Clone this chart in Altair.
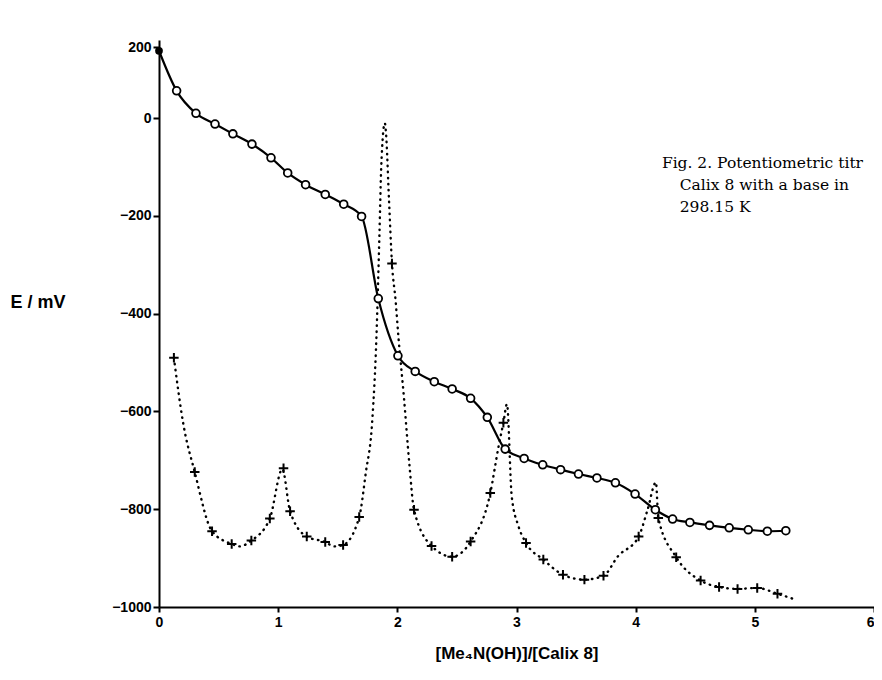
import altair as alt
import pandas as pd

# Potential E (mV) vs ratio — open circles, solid line
e_x = [0.0, 0.148, 0.31, 0.47, 0.62, 0.78, 0.94, 1.08, 1.23, 1.395, 1.55, 1.70,
       1.84, 2.005, 2.15, 2.31, 2.46, 2.615, 2.755, 2.905, 3.064, 3.22, 3.37,
       3.52, 3.675, 3.83, 3.995, 4.165, 4.31, 4.455, 4.62, 4.785, 4.945, 5.105, 5.26]
e_y = [138, 56, 10, -12, -32, -53, -81, -112, -136, -156, -176, -201,
       -369, -486, -518, -539, -554, -573, -612, -677, -696, -709, -719,
       -728, -736, -746, -769, -801, -820, -827, -833, -838, -842, -845, -844]

start_x = [0.0]
start_y = [138]

# Derivative points — "+" markers
d_x = [0.125, 0.30, 0.445, 0.61, 0.775, 0.93, 1.045, 1.10, 1.24, 1.395, 1.545, 1.68,
       1.955, 2.14, 2.287, 2.46, 2.615, 2.78, 2.89, 3.08, 3.225, 3.39, 3.57, 3.73,
       4.025, 4.19, 4.34, 4.545, 4.70, 4.855, 5.02, 5.19]
d_y = [-490, -724, -845, -871, -864, -819, -716, -804, -856, -867, -873, -816,
       -297, -801, -875, -897, -866, -767, -623, -869, -903, -934, -944, -936,
       -856, -818, -898, -946, -959, -963, -961, -973]

# Dotted derivative curve
c_x = [0.125, 0.203, 0.30, 0.445, 0.61, 0.677, 0.775, 0.93, 1.035, 1.10, 1.24, 1.395,
       1.47, 1.545, 1.68, 1.735, 1.79, 1.825, 1.85, 1.865, 1.895, 1.905, 1.93, 1.955,
       1.985, 2.01, 2.055, 2.10, 2.14, 2.287, 2.46, 2.615, 2.78, 2.85, 2.89, 2.92,
       2.96, 3.017, 3.08, 3.225, 3.39, 3.57, 3.73, 3.852, 4.025, 4.10, 4.17, 4.19,
       4.34, 4.545, 4.70, 4.855, 5.02, 5.19, 5.33]
c_y = [-490, -624, -724, -845, -871, -876, -864, -819, -718, -804, -856, -867,
       -876, -873, -816, -726, -617, -445, -235, -99, -10, -31, -167, -297,
       -372, -450, -570, -705, -801, -875, -897, -866, -767, -671, -623, -585,
       -774, -835, -869, -903, -934, -944, -936, -896, -856, -801, -745, -818,
       -898, -946, -959, -963, -961, -973, -984]

caption_lines = ["Fig. 2. Potentiometric titr", "Calix 8 with a base in", "298.15 K"]
caption_x = [4.22, 4.37, 4.37]
caption_y = [-91, -137, -181]

y_ticks = [-1000, -800, -600, -400, -200, 0, 145]
x_ticks = [0, 1, 2, 3, 4, 5, 6]

df_e = pd.DataFrame({"x": e_x, "y": e_y})
df_start = pd.DataFrame({"x": start_x, "y": start_y})
df_d = pd.DataFrame({"x": d_x, "y": d_y})
df_c = pd.DataFrame({"x": c_x, "y": c_y})
df_cap = pd.DataFrame({"t": caption_lines, "x": caption_x, "y": caption_y})

xs = alt.Scale(domain=[0, 6], nice=False)
ys = alt.Scale(domain=[-1000, 160], nice=False)

x_axis = alt.Axis(values=x_ticks, format="d", title="[Me₄N(OH)]/[Calix 8]",
                  grid=False, domainColor="black", domainWidth=2, tickColor="black",
                  tickWidth=2, tickSize=5, labelFont="Liberation Sans", labelFontWeight="bold",
                  labelFontSize=14, labelColor="black", labelPadding=3,
                  labelAlign={"expr": "datum.value == 6 ? 'right' : 'center'"},
                  titleFont="Liberation Sans", titleFontWeight="bold", titleFontSize=17,
                  titleColor="black", titlePadding=16)
y_axis = alt.Axis(values=y_ticks, format="d", title="E / mV", grid=False,
                  labelExpr="datum.value > 100 ? '200' : datum.label",
                  domainColor="black", domainWidth=2, tickColor="black", tickWidth=2,
                  tickSize=6, labelFont="Liberation Sans", labelFontWeight="bold",
                  labelFontSize=14, labelColor="black", labelPadding=2,
                  titleFont="Liberation Sans", titleFontWeight="bold", titleFontSize=18,
                  titleColor="black", titleAngle=0, titleAlign="left", titleBaseline="middle",
                  titleX=-149, titleY=262)

X = alt.X("x:Q", scale=xs, axis=x_axis)
Y = alt.Y("y:Q", scale=ys, axis=y_axis)

dotted = alt.Chart(df_c).mark_line(
    color="black", strokeWidth=2.4, strokeDash=[0.5, 5.5], strokeCap="round",
    interpolate="monotone").encode(x=X, y=Y, order="x:Q")

plus = alt.Chart(df_d).mark_point(
    shape="M-1,0L1,0M0,-1L0,1", size=90, strokeWidth=2, color="black",
    filled=False, opacity=1).encode(x="x:Q", y="y:Q")

solid = alt.Chart(df_e).mark_line(
    color="black", strokeWidth=2.2, interpolate="monotone").encode(x="x:Q", y="y:Q", order="x:Q")

circles = alt.Chart(df_e.iloc[1:]).mark_point(
    shape="circle", size=60, strokeWidth=1.8, color="black", fill="white",
    filled=False, opacity=1, fillOpacity=1).encode(x="x:Q", y="y:Q")

start = alt.Chart(df_start).mark_point(
    shape="circle", size=60, color="black", filled=True, opacity=1).encode(x="x:Q", y="y:Q")

caption = alt.Chart(df_cap).mark_text(
    align="left", baseline="middle", font="DejaVu Serif", fontSize=15.5,
    color="black").encode(x="x:Q", y="y:Q", text="t:N")

chart = alt.layer(dotted, plus, solid, circles, start, caption).properties(
    width=715, height=567,
    autosize=alt.AutoSizeParams(type="none"),
    padding={"left": 151, "top": 32, "right": 0, "bottom": 56},
).configure(background="white", view=alt.ViewConfig(stroke=None))

chart.save("out.html", embed_options={"renderer": "svg", "actions": False})
